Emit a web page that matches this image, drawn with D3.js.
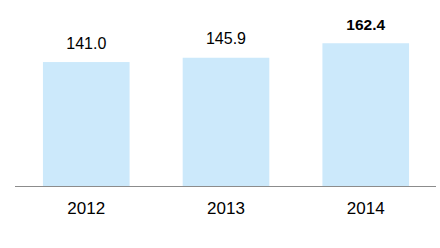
<!DOCTYPE html>
<html><head><meta charset="utf-8">
<script src="https://cdn.jsdelivr.net/npm/d3@7"></script>
<style>html,body{margin:0;padding:0;background:#fff;}svg{display:block;}</style>
</head><body>
<svg id="chart" width="440" height="248"></svg>
<script>
const categories = ["2012", "2013", "2014"];
const values = [141.0, 145.9, 162.4];
const valueLabels = ["141.0", "145.9", "162.4"];
const boldFlags = [false, false, true];

const svg = d3.select("#chart");
const baseY = 186;
const x = d3.scaleBand().domain(categories).range([15, 437]).paddingInner(0.38).paddingOuter(0.2);
const y = d3.scaleLinear().domain([0, 211.6]).range([baseY, 0]);

svg.selectAll("rect.bar").data(values).enter().append("rect")
  .attr("class", "bar")
  .attr("x", (d, i) => x(categories[i]))
  .attr("width", x.bandwidth())
  .attr("y", d => y(d))
  .attr("height", d => baseY - y(d))
  .attr("fill", "#cce9fb");

const axis = d3.axisBottom(x).tickSize(0).tickPadding(0);
const g = svg.append("g").attr("transform", `translate(0,${baseY})`).call(axis);
g.select(".domain").attr("stroke", "#8c8c8c").attr("stroke-width", 1).attr("d", "M15,0.5H436");
g.selectAll(".tick text")
  .attr("font-family", "'Liberation Sans', Arial, sans-serif")
  .attr("font-size", 17)
  .attr("fill", "#000")
  .attr("dy", null)
  .attr("y", 28);

svg.selectAll("text.val").data(values).enter().append("text")
  .attr("class", "val")
  .attr("x", (d, i) => x(categories[i]) + x.bandwidth() / 2)
  .attr("y", d => y(d) - 13.5)
  .attr("text-anchor", "middle")
  .attr("font-family", "'Liberation Sans', Arial, sans-serif")
  .attr("font-size", (d, i) => boldFlags[i] ? 15.5 : 16)
  .attr("font-weight", (d, i) => boldFlags[i] ? "bold" : "normal")
  .attr("fill", "#000")
  .text((d, i) => valueLabels[i]);
</script>
</body></html>
